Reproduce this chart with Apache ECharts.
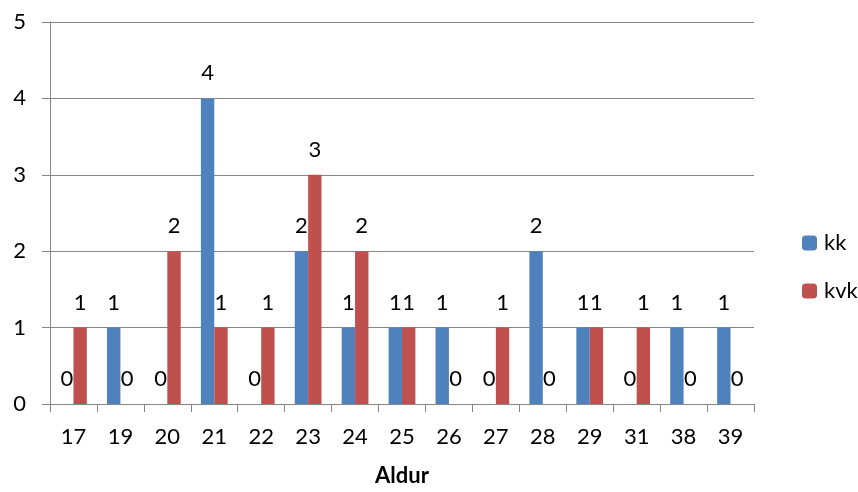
<!DOCTYPE html>
<html><head><meta charset="utf-8">
<script src="https://cdn.jsdelivr.net/npm/echarts@6/dist/echarts.min.js"></script>
<style>html,body{margin:0;padding:0;background:#fff}#c{width:858px;height:492px}</style>
</head><body><div id="c"></div>
<script>
var categories = ['17','19','20','21','22','23','24','25','26','27','28','29','31','38','39'];
var kk  = [0,1,0,4,0,2,1,1,1,0,2,1,0,1,1];
var kvk = [1,0,2,1,1,3,2,1,0,1,0,1,1,0,0];
var yTicks = [0,1,2,3,4,5];
var FONT = 'Lato, "Open Sans", sans-serif';
var FS = 22;
var chart = echarts.init(document.getElementById('c'));
var lbl = {show:true, position:'top', distance:14, color:'#000', fontSize:FS, fontFamily:FONT};
chart.setOption({
  animation:false,
  grid:{left:50, right:104, top:22, bottom:85, containLabel:false},
  legend:{orient:'vertical', left:797, top:227, itemWidth:15, itemHeight:15, itemGap:26,
    textStyle:{fontSize:FS, fontFamily:FONT, color:'#000', padding:[0,0,0,2]}, data:['kk','kvk']},
  xAxis:{type:'category', data:categories, name:'Aldur', nameLocation:'middle', nameGap:61,
    nameTextStyle:{fontSize:FS, fontWeight:'bold', fontFamily:FONT, color:'#000'},
    axisLine:{lineStyle:{color:'#868686', width:1}},
    axisTick:{show:true, length:8, lineStyle:{color:'#868686'}},
    axisLabel:{fontSize:FS, fontFamily:FONT, color:'#000', margin:22}},
  yAxis:{type:'value', min:0, max:5, interval:1,
    axisLine:{show:true, lineStyle:{color:'#868686'}},
    axisTick:{show:true, length:8, inside:false, lineStyle:{color:'#868686'}},
    axisLabel:{fontSize:FS, fontFamily:FONT, color:'#000', margin:24},
    splitLine:{lineStyle:{color:'#868686', width:1}}},
  series:[
    {name:'kk', type:'bar', data:kk, barGap:'0%', barCategoryGap:'43%', itemStyle:{color:'#4F81BD'}, label:lbl},
    {name:'kvk', type:'bar', data:kvk, barGap:'0%', barCategoryGap:'43%', itemStyle:{color:'#C0504D'}, label:lbl}
  ]
});
</script></body></html>
